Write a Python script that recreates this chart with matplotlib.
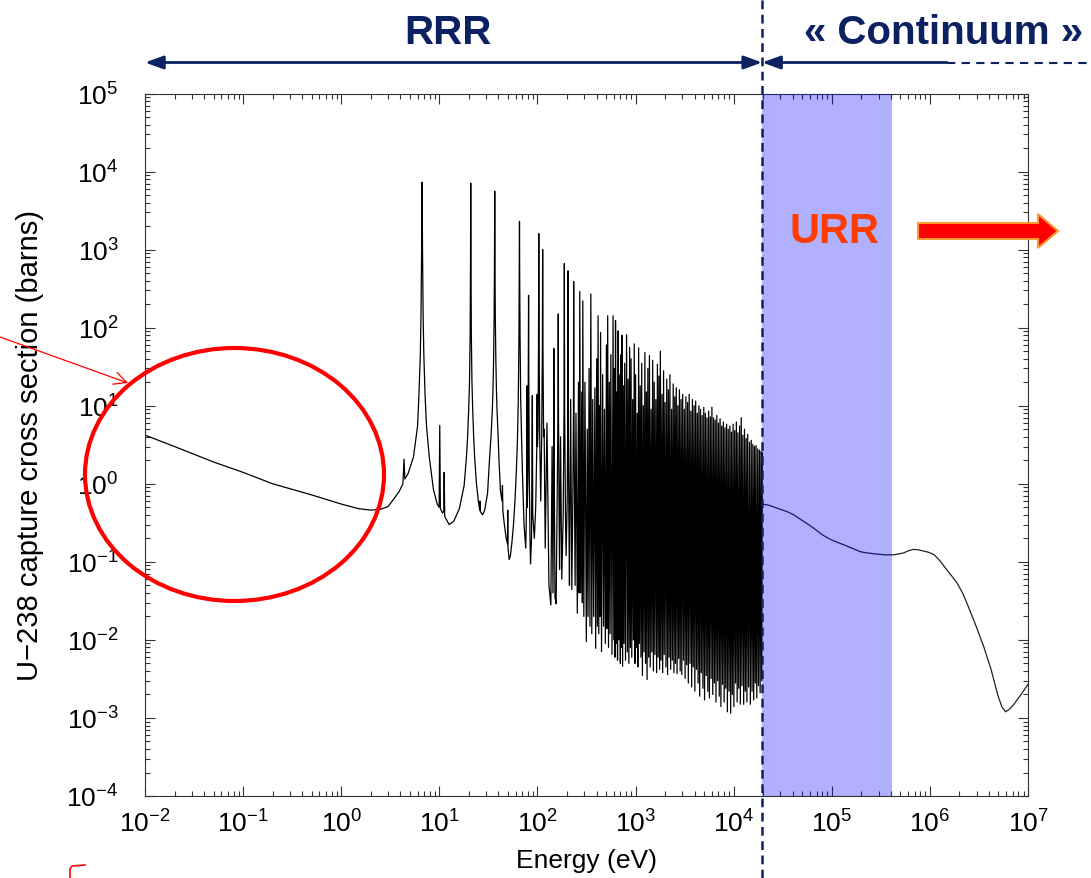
import numpy as np
import matplotlib
matplotlib.use('Agg')
import matplotlib.pyplot as plt
import matplotlib.transforms as mtransforms
from matplotlib.patches import Ellipse, FancyArrow, FancyArrowPatch
from matplotlib.ticker import LogLocator, NullFormatter

plt.rcParams['font.family'] = ['Liberation Sans', 'DejaVu Sans']
plt.rcParams['mathtext.fontset'] = 'custom'
plt.rcParams['mathtext.rm'] = 'Liberation Sans'
plt.rcParams['mathtext.it'] = 'Liberation Sans:italic'
plt.rcParams['mathtext.bf'] = 'Liberation Sans:bold'
plt.rcParams['mathtext.default'] = 'regular'

# ---------------- data (energy in eV, capture cross section in barns) -------------
thermal_pts = [(0.01, 4.2), (0.02, 3.0), (0.05, 1.9), (0.1, 1.4), (0.2, 1.0), (0.5, 0.72),
               (1.0, 0.55), (1.5, 0.48), (2.0, 0.46), (2.5, 0.47), (3.0, 0.51)]

lowres_pts = [(3.44, 0.64), (3.9, 0.8), (4.25, 1.0), (4.37, 2.07), (4.45, 1.15), (4.8, 1.35),
              (5.45, 2.2), (6.0, 5.5), (6.2, 14), (6.4, 45), (6.5, 135), (6.6, 1000), (6.67, 7300),
              (6.74, 1000), (6.84, 135), (6.95, 45), (7.15, 14), (7.4, 5.5), (7.9, 2.2), (8.7, 0.85),
              (9.5, 0.55), (9.95, 0.5), (10.1, 5.6), (10.25, 0.48), (10.8, 0.42), (11.1, 0.45),
              (11.2, 1.4), (11.35, 0.38), (12.6, 0.30), (14.0, 0.33), (16.0, 0.48), (17.9, 0.95),
              (18.9, 2.2), (19.4, 3.9), (19.9, 8.7), (20.3, 20), (20.6, 78), (20.8, 770), (20.9, 7100),
              (21.0, 770), (21.2, 78), (21.5, 20), (21.9, 8.7), (22.4, 3.9), (22.9, 2.2), (23.9, 1.0),
              (25.0, 0.6), (25.8, 0.46), (26.0, 0.6), (26.2, 0.44), (27.6, 0.40), (29.0, 0.46),
              (31.0, 0.75), (32.7, 2.4), (33.7, 4.2), (34.7, 9), (35.2, 16), (35.7, 36), (36.2, 140),
              (36.45, 530), (36.7, 5600), (36.95, 530), (37.2, 140), (37.7, 36), (38.2, 16), (38.7, 9),
              (39.7, 4.2), (40.7, 1.8), (42.0, 0.8), (43.6, 0.6), (44.0, 0.95), (44.4, 0.45),
              (46.0, 0.3), (48.0, 0.2), (49.5, 0.17), (49.8, 0.46), (50.1, 0.15), (51.5, 0.107),
              (53.0, 0.12), (55.0, 0.18), (57.0, 0.3), (59.0, 0.6), (61.0, 1.5), (62.5, 3.5),
              (63.8, 12), (64.8, 80), (65.3, 500), (65.6, 2300), (65.9, 500), (66.5, 80), (67.5, 12),
              (69.0, 3.5), (71.0, 0.9), (73.0, 0.3), (76.0, 0.15), (77.5, 0.6), (78.2, 18), (78.8, 0.5),
              (80.0, 1.5), (80.7, 20), (81.2, 260), (81.7, 20), (82.5, 1.5), (84.0, 0.2), (85.0, 0.094),
              (87.0, 0.2), (88.7, 13.5), (89.5, 0.4), (93.0, 0.2), (96.0, 0.5), (98.5, 3), (99.3, 14),
              (100.0, 3), (101.5, 5), (102.5, 60), (103.2, 1600), (104.0, 60), (105.5, 4), (108.0, 0.6),
              (110.5, 4), (112.3, 60), (113.0, 1000), (113.8, 60), (115.5, 4), (117.0, 5)]

midres_pts = [(120, 0.15), (125, 6), (131, 0.05), (137, 0.028), (141, 3), (144, 0.04), (146, 2),
              (147, 54), (148, 2), (151, 0.035), (155, 0.029), (160, 1.5), (162.3, 10), (163, 150),
              (163.7, 10), (166, 0.5), (168, 0.08), (172, 4), (177, 0.06), (183, 0.4), (186.5, 8),
              (188, 665), (189.5, 8), (193, 0.4), (196, 0.12), (201, 0.6), (204, 8), (205, 535),
              (206, 8), (209, 0.4), (212, 0.05), (218, 12), (224, 0.044), (229, 0.5), (233, 8),
              (234, 390), (235.5, 8), (239, 0.4), (242, 0.05), (247, 8), (255, 0.022), (262, 20),
              (266, 0.04), (270, 290), (276, 0.04), (283, 15), (287, 0.03), (290, 220), (297, 0.02),
              (305, 20), (315, 0.0095), (322, 5), (328, 0.02), (336, 30), (343, 0.015), (350, 270),
              (358, 0.012), (366, 12), (374, 0.02), (385, 17), (392, 0.0078), (402, 40), (408, 0.015),
              (415, 142), (422, 0.012), (430, 10), (435, 0.02), (440, 87), (450, 0.0071), (462, 25),
              (472, 0.015), (482, 9), (492, 0.009), (505, 60), (512, 0.014), (520, 142), (530, 0.008),
              (540, 20), (550, 0.012), (560, 45), (575, 0.0065), (590, 142), (600, 0.01), (610, 30),
              (617, 0.006), (625, 123), (635, 0.009), (645, 15), (655, 0.0055), (665, 91), (675, 0.01),
              (690, 25), (700, 0.005), (710, 45), (718, 0.008), (725, 80), (738, 0.0046), (750, 18),
              (762, 0.009), (775, 35), (790, 0.0055), (810, 81), (825, 0.007), (840, 22), (855, 0.005),
              (870, 56), (885, 0.008)]

# dense forest: alternating resonance peak / valley between 0.9 and 19.6 keV
forest_pts = [(900, 40), (915, 0.006), (935, 12), (950, 0.01), (970, 62), (985, 0.005),
              (1000, 25), (1020, 0.008), (1040, 8), (1055, 0.0045), (1075, 55), (1095, 0.009),
              (1115, 18), (1135, 0.006), (1155, 35), (1175, 0.0035), (1200, 10), (1220, 0.007),
              (1245, 48), (1265, 0.005), (1290, 15), (1310, 0.0031), (1335, 30), (1360, 0.006),
              (1385, 44), (1410, 0.0045), (1440, 9), (1465, 0.007), (1495, 38), (1520, 0.004),
              (1550, 20), (1575, 0.0065), (1610, 12), (1640, 0.0038), (1670, 34), (1700, 0.006),
              (1730, 24), (1760, 0.0042), (1790, 50), (1820, 0.0055), (1860, 14), (1890, 0.0038),
              (1930, 28), (1960, 0.0065), (2000, 11), (2040, 0.0045), (2080, 22), (2120, 0.0036),
              (2160, 16), (2200, 0.006), (2240, 25), (2280, 0.0042), (2330, 9), (2370, 0.0055),
              (2420, 19), (2460, 0.0038), (2510, 13), (2550, 0.005), (2600, 17), (2650, 0.0037),
              (2700, 10), (2750, 0.0058), (2800, 16), (2850, 0.004), (2910, 12), (2960, 0.0036),
              (3020, 14), (3080, 0.0055), (3140, 9), (3200, 0.0032), (3260, 13), (3320, 0.0048),
              (3390, 11), (3450, 0.0028), (3520, 14), (3590, 0.005), (3660, 8.5), (3730, 0.0025),
              (3800, 12), (3870, 0.0045), (3950, 10), (4020, 0.0022), (4100, 11.5), (4180, 0.0042),
              (4260, 8), (4340, 0.0028), (4420, 10), (4500, 0.0019), (4590, 9), (4680, 0.0038),
              (4770, 7.5), (4860, 0.0024), (4960, 9.5), (5050, 0.0017), (5150, 8), (5250, 0.0035),
              (5350, 7), (5450, 0.0022), (5560, 8.5), (5660, 0.0018), (5780, 7.2), (5890, 0.0032),
              (6000, 9.6), (6120, 0.002), (6240, 7), (6360, 0.0028), (6480, 6.5), (6600, 0.0016),
              (6730, 7.5), (6860, 0.003), (7000, 6), (7130, 0.0019), (7270, 6.8), (7410, 0.0014),
              (7550, 5.5), (7700, 0.0027), (7850, 6.2), (8000, 0.0016), (8150, 5.2), (8300, 0.0024),
              (8470, 5.8), (8630, 0.0012), (8800, 5), (8970, 0.0022), (9150, 5.5), (9320, 0.00115),
              (9500, 4.6), (9680, 0.002), (9870, 5.8), (10050, 0.0014), (10250, 4.8), (10450, 0.0028),
              (10650, 6.2), (10850, 0.0016), (11050, 4.5), (11250, 0.0024), (11500, 5.5), (11700, 0.0015),
              (11950, 7), (12150, 0.0026), (12400, 4.2), (12650, 0.0015), (12900, 5), (13150, 0.0022),
              (13400, 3.8), (13650, 0.0016), (13900, 4.3), (14200, 0.0025), (14500, 3.4), (14800, 0.0015),
              (15100, 3.6), (15400, 0.0022), (15700, 3.2), (16000, 0.0017), (16300, 3.0), (16600, 0.0028),
              (16900, 3.1), (17200, 0.0018), (17600, 2.8), (17900, 0.0026), (18300, 2.7), (18600, 0.0021),
              (19000, 2.6), (19300, 0.003), (19600, 2.5)]

continuum_pts = [(1.95e4, 0.55), (2.3e4, 0.53), (3.0e4, 0.47), (3.5e4, 0.44), (4.1e4, 0.40),
                 (4.8e4, 0.35), (5.8e4, 0.30), (6.8e4, 0.26), (8.1e4, 0.22), (1.0e5, 0.19),
                 (1.33e5, 0.165), (1.6e5, 0.15), (1.95e5, 0.135), (2.3e5, 0.13), (2.8e5, 0.126),
                 (3.5e5, 0.123), (4.3e5, 0.123), (5.4e5, 0.13), (6.0e5, 0.138), (6.7e5, 0.144),
                 (7.5e5, 0.143), (8.5e5, 0.138), (9.6e5, 0.133), (1.1e6, 0.124), (1.25e6, 0.105),
                 (1.49e6, 0.079), (1.7e6, 0.064), (1.9e6, 0.053), (2.15e6, 0.04), (2.4e6, 0.029),
                 (2.9e6, 0.016), (3.55e6, 0.0081), (4.2e6, 0.0042), (4.9e6, 0.0020), (5.4e6, 0.0014),
                 (5.9e6, 0.0012), (6.5e6, 0.0013), (7.2e6, 0.0015), (8.5e6, 0.002), (1.0e7, 0.0027)]

rrr_range = [1e-2, 1.95e4]          # resolved resonance range arrow
urr_range = [1.95e4, 4.12e5]        # shaded unresolved range
continuum_solid_end = 1.5e6
continuum_dash_end = 4.5e7

x_label_text = 'Energy (eV)'
y_label_text = 'U\u2212238 capture cross section (barns)'

# ---------------- figure ----------------
W, H = 1091, 879
navy = '#0c2162'
fig = plt.figure(figsize=(W / 100, H / 100), dpi=100)
ax = fig.add_axes([145 / W, (H - 797) / H, (1028 - 145) / W, (797 - 94.5) / H])

res = thermal_pts + lowres_pts + midres_pts + forest_pts
ax.plot([p[0] for p in res], [p[1] for p in res], color='black', lw=0.9, zorder=2)
ax.plot([p[0] for p in continuum_pts], [p[1] for p in continuum_pts], color='#222222', lw=0.9, zorder=2)
ax.axvspan(urr_range[0], urr_range[1], color='#0000ff', alpha=0.31, lw=0, zorder=3)

ax.set_xscale('log')
ax.set_yscale('log')
ax.set_xlim(1e-2, 1e7)
ax.set_ylim(1e-4, 1e5)
for axis in (ax.xaxis, ax.yaxis):
    axis.set_major_locator(LogLocator(base=10, numticks=20))
    axis.set_minor_locator(LogLocator(base=10, subs=(2, 3, 4, 5, 6, 7, 8, 9), numticks=20))
    axis.set_minor_formatter(NullFormatter())
ax.tick_params(which='both', direction='in', top=True, right=True, width=0.8, color='#333333')
ax.tick_params(which='major', length=7)
ax.tick_params(which='minor', length=3.6)
ax.tick_params(axis='x', labelsize=19, pad=10)
ax.tick_params(axis='y', labelsize=19, pad=19)
for s in ax.spines.values():
    s.set_color('#333333')
    s.set_linewidth(0.8)
ax.set_xlabel(x_label_text, fontsize=19, labelpad=8)
ax.set_ylabel(y_label_text, fontsize=21, labelpad=16)

# vertical dashed boundary running over the whole figure
trans = mtransforms.blended_transform_factory(ax.transData, fig.transFigure)
ax.plot([rrr_range[1], rrr_range[1]], [0, 1], transform=trans, color=navy, lw=1.8,
        ls=(0, (3.5, 2.2)), clip_on=False, zorder=6)

arrow_y = (H - 63.5) / H
ax.annotate('', xy=(rrr_range[0], arrow_y), xytext=(rrr_range[1], arrow_y), xycoords=trans,
            textcoords=trans, annotation_clip=False,
            arrowprops=dict(arrowstyle='<|-|>,head_length=1.1,head_width=0.4', color=navy, lw=2,
                            shrinkA=0, shrinkB=0))
ax.annotate('', xy=(rrr_range[1], arrow_y), xytext=(continuum_solid_end, arrow_y), xycoords=trans,
            textcoords=trans, annotation_clip=False,
            arrowprops=dict(arrowstyle='-|>,head_length=1.1,head_width=0.4', color=navy, lw=2,
                            shrinkA=0, shrinkB=0))
ax.plot([continuum_solid_end, continuum_dash_end], [arrow_y, arrow_y], transform=trans, color=navy,
        lw=1.5, ls=(0, (4, 3)), clip_on=False)

fig.text(448 / W, (H - 33) / H, 'RRR', color=navy, fontsize=29, fontweight='bold',
         ha='center', va='center')
fig.text(944 / W, (H - 33) / H, '\u00ab Continuum \u00bb', color=navy, fontsize=29,
         fontweight='bold', ha='center', va='center')
fig.text(835 / W, (H - 232) / H, 'URR', color='#ff3d00', fontsize=30, fontweight='bold',
         ha='center', va='center', zorder=10)

# fat red arrow
fig.add_artist(FancyArrow(9.18, (H - 232) / 100, 1.40, 0, width=0.16, head_width=0.34,
                          head_length=0.2, length_includes_head=True, facecolor='#ff0000',
                          edgecolor='#ff9933', lw=1.5, transform=fig.dpi_scale_trans))

# red ellipse and pointer
fig.add_artist(Ellipse((2.345, (H - 475.5) / 100), 2.99, 2.53, fill=False, edgecolor='#ff0000',
                       lw=3, transform=fig.dpi_scale_trans, zorder=8))
fig.add_artist(FancyArrowPatch((0.0, (H - 338) / 100), (1.28, (H - 384) / 100),
                               arrowstyle='->,head_length=0.9,head_width=0.45', mutation_scale=10,
                               color='#ff0000', lw=0.9, shrinkA=0, shrinkB=0,
                               transform=fig.dpi_scale_trans, zorder=8))
fig.add_artist(plt.Line2D([0.85, 0.72, 0.70, 0.70], [(H - 866) / 100, (H - 867) / 100,
                                                      (H - 870) / 100, 0.0],
                          color='#ff0000', lw=1.2, transform=fig.dpi_scale_trans))

fig.savefig('out.png', dpi=100)
